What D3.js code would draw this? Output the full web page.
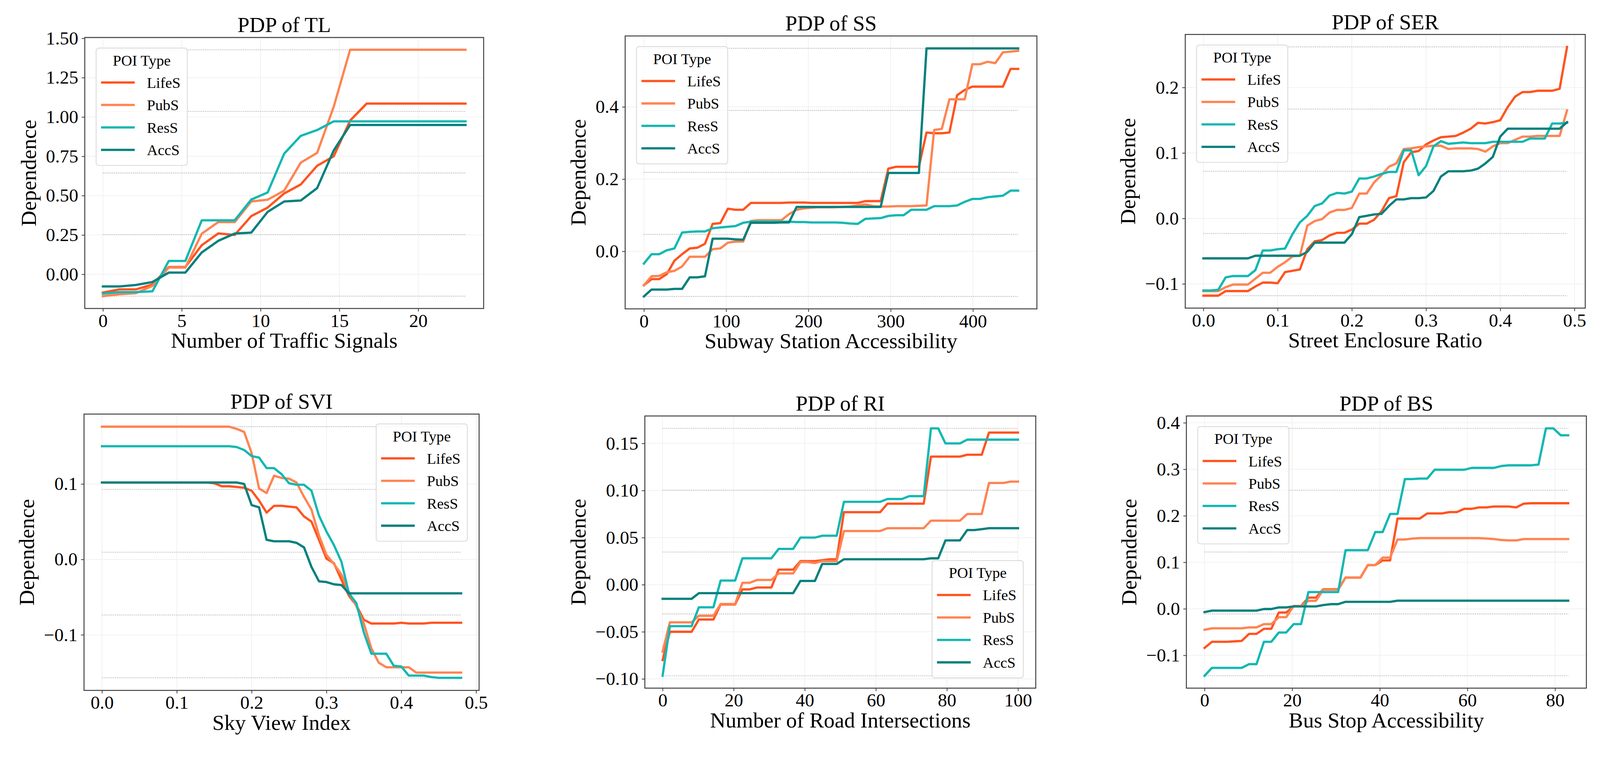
<!DOCTYPE html>
<html>
<head>
<meta charset="utf-8">
<script src="https://cdn.jsdelivr.net/npm/d3@7"></script>
<style>
  html, body { margin: 0; padding: 0; background: #fff; overflow: hidden; }
  #chart { display: block; width: 100vw; height: auto; }
  svg text { font-family: "Liberation Serif", "Times New Roman", serif; fill: #000; }
</style>
</head>
<body>
<svg id="chart" viewBox="0 0 4228 1981" preserveAspectRatio="xMidYMid meet"></svg>
<script>
// series names / colours, shared by every panel
const poiTypes = ["LifeS", "PubS", "ResS", "AccS"];
const poiColors = ["#ff5420", "#ff8452", "#12b8b3", "#05807d"];

// ---- PDP of TL ----
const tlX = [0, 1.05, 2.09, 3.14, 4.18, 5.23, 6.27, 7.32, 8.36, 9.41, 10.45, 11.5, 12.55, 13.59, 14.64, 15.68, 16.73, 17.77, 18.82, 19.86, 20.91, 21.95, 23];
const tlLifeS = [-0.116, -0.096, -0.096, -0.065, 0.046, 0.046, 0.185, 0.26, 0.25, 0.37, 0.424, 0.514, 0.571, 0.69, 0.75, 0.977, 1.085, 1.085, 1.085, 1.085, 1.085, 1.085, 1.085];
const tlPubS = [-0.139, -0.127, -0.12, -0.074, 0.043, 0.043, 0.258, 0.332, 0.332, 0.463, 0.474, 0.532, 0.71, 0.772, 1.065, 1.427, 1.427, 1.427, 1.427, 1.427, 1.427, 1.427, 1.427];
const tlResS = [-0.123, -0.113, -0.113, -0.108, 0.085, 0.085, 0.343, 0.343, 0.343, 0.475, 0.52, 0.767, 0.88, 0.917, 0.972, 0.972, 0.972, 0.972, 0.972, 0.972, 0.972, 0.972, 0.972];
const tlAccS = [-0.077, -0.077, -0.068, -0.049, 0.011, 0.011, 0.139, 0.213, 0.259, 0.265, 0.397, 0.463, 0.469, 0.548, 0.787, 0.949, 0.949, 0.949, 0.949, 0.949, 0.949, 0.949, 0.949];
const tlXTicks = [0, 5, 10, 15, 20];
const tlYTicks = [0, 0.25, 0.5, 0.75, 1.0, 1.25, 1.5];

// ---- PDP of SS ----
const ssX = [0, 9.29, 18.57, 27.86, 37.14, 46.43, 55.71, 65, 74.29, 83.57, 92.86, 102.14, 111.43, 120.71, 130, 139.29, 148.57, 157.86, 167.14, 176.43, 185.71, 195, 204.29, 213.57, 222.86, 232.14, 241.43, 250.71, 260, 269.29, 278.57, 287.86, 297.14, 306.43, 315.71, 325, 334.29, 343.57, 352.86, 362.14, 371.43, 380.71, 390, 399.29, 408.57, 417.86, 427.14, 436.43, 445.71, 455];
const ssLifeS = [-0.094, -0.077, -0.077, -0.063, -0.026, -0.008, 0.008, 0.010, 0.021, 0.076, 0.078, 0.118, 0.115, 0.115, 0.134, 0.134, 0.134, 0.134, 0.134, 0.135, 0.135, 0.135,
  0.134, 0.134, 0.134, 0.134, 0.134, 0.134, 0.134, 0.139, 0.139, 0.139,
  0.229, 0.234, 0.234, 0.234, 0.234, 0.329, 0.327, 0.327, 0.329,
  0.432, 0.447, 0.456, 0.456, 0.456, 0.456, 0.456, 0.505, 0.505];
const ssPubS = [-0.094, -0.069, -0.068, -0.058, -0.054, -0.042, -0.015, -0.015, -0.015, 0.006, 0.008, 0.024, 0.027, 0.027, 0.084, 0.086, 0.086, 0.086, 0.086, 0.103, 0.115, 0.119,
  0.121, 0.122, 0.122, 0.122, 0.123, 0.124, 0.127, 0.130, 0.125,
  0.124, 0.124, 0.125, 0.125, 0.125, 0.126, 0.127,
  0.336, 0.339, 0.421, 0.421, 0.421, 0.518, 0.518, 0.525, 0.521, 0.551, 0.553, 0.555];
const ssResS = [-0.034, -0.008, -0.008, 0.003, 0.008, 0.052, 0.054, 0.055, 0.055, 0.064, 0.066, 0.068, 0.070, 0.079, 0.082, 0.082, 0.082, 0.082, 0.082, 0.082, 0.081, 0.081,
  0.080, 0.080, 0.080, 0.080, 0.079, 0.077, 0.076,
  0.090, 0.091, 0.092, 0.098, 0.100, 0.100, 0.115, 0.115, 0.115, 0.125, 0.125, 0.125, 0.127, 0.137, 0.145, 0.145, 0.150, 0.152, 0.154, 0.168, 0.168];
const ssAccS = [-0.125, -0.106, -0.106, -0.106, -0.104, -0.104, -0.072, -0.072, -0.069, 0.035, 0.035, 0.035, 0.033, 0.032, 0.079, 0.079, 0.079, 0.079, 0.080, 0.080, 0.123, 0.123,
  0.123, 0.123, 0.123, 0.123, 0.123, 0.123, 0.123, 0.123, 0.123, 0.123,
  0.217, 0.217, 0.217, 0.217, 0.217,
  0.562, 0.562, 0.562, 0.562, 0.562, 0.562, 0.562, 0.562, 0.562, 0.562, 0.562, 0.562, 0.562];
const ssXTicks = [0, 100, 200, 300, 400];
const ssYTicks = [0, 0.2, 0.4];

// ---- PDP of SER ----
const serX = [0, 0.01, 0.02, 0.03, 0.04, 0.05, 0.06, 0.07, 0.08, 0.09, 0.10, 0.11, 0.12, 0.13, 0.14, 0.15, 0.16, 0.17, 0.18, 0.19, 0.20, 0.21, 0.22, 0.23, 0.24, 0.25, 0.26, 0.27, 0.28, 0.29, 0.30, 0.31, 0.32, 0.33, 0.34, 0.35, 0.36, 0.37, 0.38, 0.39, 0.40, 0.41, 0.42, 0.43, 0.44, 0.45, 0.46, 0.47, 0.48, 0.49];
const serLifeS = [-0.118, -0.118, -0.118, -0.111, -0.111, -0.111, -0.111, -0.104, -0.098, -0.098, -0.099, -0.082, -0.080, -0.078,
  -0.047, -0.035, -0.033, -0.026, -0.022, -0.022, -0.017, -0.008, -0.008, -0.002,
  0.011, 0.031, 0.034, 0.086, 0.101, 0.103, 0.113, 0.119, 0.124, 0.125, 0.126, 0.131, 0.137, 0.146, 0.145, 0.147, 0.150, 0.170, 0.186, 0.193, 0.193, 0.195, 0.195, 0.195, 0.198, 0.262];
const serPubS = [-0.111, -0.111, -0.111, -0.105, -0.101, -0.101, -0.101, -0.092, -0.083, -0.083, -0.074, -0.067, -0.058, -0.057,
  -0.011, -0.004, -0.001, 0.009, 0.013, 0.013, 0.016, 0.038, 0.038, 0.055,
  0.066, 0.079, 0.084, 0.106, 0.107, 0.109, 0.110, 0.111, 0.111, 0.106, 0.107, 0.107, 0.107, 0.106, 0.102, 0.110, 0.115, 0.115, 0.120, 0.125, 0.125, 0.126, 0.126, 0.126, 0.126, 0.165];
const serResS = [-0.110, -0.110, -0.109, -0.090, -0.088, -0.088, -0.088, -0.079, -0.049, -0.049, -0.047, -0.046, -0.024, -0.006,
  0.004, 0.019, 0.023, 0.035, 0.039, 0.038, 0.041, 0.061, 0.061, 0.064,
  0.068, 0.071, 0.071, 0.104, 0.104, 0.066, 0.080, 0.110, 0.118, 0.114, 0.115, 0.116, 0.115, 0.115, 0.115, 0.117, 0.117, 0.117, 0.117, 0.117, 0.122, 0.122, 0.122, 0.145, 0.145, 0.146];
const serAccS = [-0.061, -0.061, -0.061, -0.061, -0.061, -0.061, -0.061, -0.057, -0.057, -0.057, -0.057, -0.057, -0.057, -0.057,
  -0.051, -0.037, -0.037, -0.037, -0.037, -0.037, -0.024, 0.002, 0.004, 0.006,
  0.007, 0.019, 0.029, 0.029, 0.031, 0.031, 0.032, 0.042, 0.064, 0.072, 0.072, 0.072, 0.073, 0.076, 0.084, 0.094, 0.125, 0.137, 0.137, 0.137, 0.137, 0.137, 0.137, 0.137, 0.137, 0.147];
const serXTicks = [0, 0.1, 0.2, 0.3, 0.4, 0.5];
const serYTicks = [-0.1, 0, 0.1, 0.2];

// ---- PDP of SVI ----
const sviX = [0, 0.01, 0.02, 0.03, 0.04, 0.05, 0.06, 0.07, 0.08, 0.09, 0.10, 0.11, 0.12, 0.13, 0.14, 0.15, 0.16, 0.17, 0.18, 0.19, 0.20, 0.21, 0.22, 0.23, 0.24, 0.25, 0.26, 0.27, 0.28, 0.29, 0.30, 0.31, 0.32, 0.33, 0.34, 0.35, 0.36, 0.37, 0.38, 0.39, 0.40, 0.41, 0.42, 0.43, 0.44, 0.45, 0.46, 0.47, 0.48];
const sviLifeS = [0.102, 0.102, 0.102, 0.102, 0.102, 0.102, 0.102, 0.102, 0.102, 0.102, 0.102, 0.102, 0.102, 0.102, 0.102, 0.101,
  0.097, 0.097, 0.096, 0.095, 0.091, 0.078, 0.062, 0.071, 0.071, 0.070, 0.069, 0.057, 0.050, 0.026, 0.001, -0.005, -0.027, -0.048, -0.061, -0.080, -0.085,
  -0.085, -0.085, -0.085, -0.084, -0.085, -0.085, -0.085, -0.084, -0.084, -0.084, -0.084, -0.084];
const sviPubS = [0.176, 0.176, 0.176, 0.176, 0.176, 0.176, 0.176, 0.176, 0.176, 0.176, 0.176, 0.176, 0.176, 0.176, 0.176, 0.176, 0.176, 0.176,
  0.173, 0.169, 0.141, 0.094, 0.088, 0.111, 0.108, 0.107, 0.102, 0.083, 0.066, 0.032, 0.006, -0.006, -0.020, -0.043, -0.062, -0.085, -0.118,
  -0.137, -0.143, -0.143, -0.143, -0.143, -0.150, -0.150, -0.150, -0.150, -0.150, -0.150, -0.150];
const sviResS = [0.150, 0.150, 0.150, 0.150, 0.150, 0.150, 0.150, 0.150, 0.150, 0.150, 0.150, 0.150, 0.150, 0.150, 0.150, 0.150, 0.150, 0.150,
  0.149, 0.145, 0.137, 0.135, 0.121, 0.121, 0.113, 0.101, 0.099, 0.099, 0.091, 0.058, 0.037, 0.019, -0.003, -0.045, -0.058, -0.097, -0.125,
  -0.125, -0.125, -0.141, -0.142, -0.154, -0.154, -0.154, -0.156, -0.157, -0.157, -0.157, -0.157];
const sviAccS = [0.102, 0.102, 0.102, 0.102, 0.102, 0.102, 0.102, 0.102, 0.102, 0.102, 0.102, 0.102, 0.102, 0.102, 0.102, 0.102, 0.102, 0.102, 0.102,
  0.100, 0.072, 0.069, 0.026, 0.024, 0.024, 0.024, 0.022, 0.016, -0.010, -0.029, -0.030, -0.033, -0.034, -0.045,
  -0.045, -0.045, -0.045, -0.045, -0.045, -0.045, -0.045, -0.045, -0.045, -0.045, -0.045, -0.045, -0.045, -0.045, -0.045];
const sviXTicks = [0, 0.1, 0.2, 0.3, 0.4, 0.5];
const sviYTicks = [-0.1, 0, 0.1];

// ---- PDP of RI ----
const riX = [0, 2.04, 4.08, 6.12, 8.16, 10.2, 12.24, 14.29, 16.33, 18.37, 20.41, 22.45, 24.49, 26.53, 28.57, 30.61, 32.65, 34.69, 36.73, 38.78, 40.82, 42.86, 44.9, 46.94, 48.98, 51.02, 53.06, 55.1, 57.14, 59.18, 61.22, 63.27, 65.31, 67.35, 69.39, 71.43, 73.47, 75.51, 77.55, 79.59, 81.63, 83.67, 85.71, 87.76, 89.8, 91.84, 93.88, 95.92, 97.96, 100];
const riLifeS = [-0.080, -0.050, -0.050, -0.050, -0.050, -0.037, -0.037, -0.037, -0.021, -0.021, -0.021,
  -0.005, -0.005, -0.003, -0.003, -0.003, 0.016, 0.016, 0.016, 0.025, 0.025, 0.025, 0.026, 0.027, 0.027,
  0.077, 0.077, 0.077, 0.077, 0.077, 0.077, 0.086, 0.086, 0.086, 0.086, 0.086, 0.086,
  0.136, 0.136, 0.136, 0.136, 0.136, 0.138, 0.138, 0.138, 0.1615, 0.1615, 0.1615, 0.1615, 0.1615];
const riPubS = [-0.071, -0.040, -0.040, -0.040, -0.040, -0.033, -0.033, -0.033, -0.0205, -0.0205, -0.0205,
  0.002, 0.002, 0.005, 0.005, 0.005, 0.012, 0.012, 0.012, 0.024, 0.024, 0.023, 0.025, 0.025, 0.025,
  0.057, 0.057, 0.057, 0.057, 0.057, 0.057, 0.060, 0.060, 0.060, 0.060, 0.060, 0.060,
  0.068, 0.068, 0.068, 0.068, 0.068, 0.075, 0.075, 0.075, 0.108, 0.108, 0.108, 0.1095, 0.1095];
const riResS = [-0.0967, -0.044, -0.044, -0.044, -0.044, -0.024, -0.024, -0.024, 0.0044, 0.0044, 0.0044,
  0.028, 0.028, 0.028, 0.028, 0.028, 0.038, 0.038, 0.038, 0.050, 0.050, 0.050, 0.052, 0.052, 0.052,
  0.088, 0.088, 0.088, 0.088, 0.088, 0.088, 0.091, 0.091, 0.091, 0.094, 0.094, 0.094,
  0.166, 0.166, 0.150, 0.150, 0.150, 0.154, 0.154, 0.154, 0.154, 0.154, 0.154, 0.154, 0.154];
const riAccS = [-0.015, -0.015, -0.015, -0.015, -0.015, -0.009, -0.009, -0.009, -0.009, -0.009, -0.009,
  -0.009, -0.009, -0.009, -0.009, -0.009, -0.009, -0.009, -0.009, 0.004, 0.004, 0.004, 0.022, 0.022, 0.022,
  0.027, 0.027, 0.027, 0.027, 0.027, 0.027, 0.027, 0.027, 0.027, 0.027, 0.027, 0.027,
  0.028, 0.028, 0.047, 0.047, 0.047, 0.058, 0.058, 0.059, 0.060, 0.060, 0.060, 0.060, 0.060];
const riXTicks = [0, 20, 40, 60, 80, 100];
const riYTicks = [-0.1, -0.05, 0, 0.05, 0.1, 0.15];

// ---- PDP of BS ----
const bsX = [0, 1.69, 3.39, 5.08, 6.78, 8.47, 10.16, 11.86, 13.55, 15.24, 16.94, 18.63, 20.33, 22.02, 23.71, 25.41, 27.1, 28.8, 30.49, 32.18, 33.88, 35.57, 37.27, 38.96, 40.65, 42.35, 44.04, 45.73, 47.43, 49.12, 50.82, 52.51, 54.2, 55.9, 57.59, 59.29, 60.98, 62.67, 64.37, 66.06, 67.76, 69.45, 71.14, 72.84, 74.53, 76.22, 77.92, 79.61, 81.31, 83];
const bsLifeS = [-0.084, -0.071, -0.071, -0.071, -0.070, -0.069, -0.054, -0.054, -0.043, -0.043, -0.008, -0.008, 0.005, 0.006,
  0.024, 0.024, 0.042, 0.042, 0.042, 0.067, 0.067, 0.067, 0.094, 0.094, 0.104, 0.104, 0.194,
  0.194, 0.194, 0.194, 0.205, 0.205, 0.205, 0.208, 0.208, 0.215, 0.215, 0.218, 0.218, 0.220, 0.220, 0.220, 0.218, 0.226, 0.227, 0.227, 0.227, 0.227, 0.227, 0.227];
const bsPubS = [-0.045, -0.042, -0.042, -0.042, -0.042, -0.042, -0.040, -0.040, -0.033, -0.033, -0.018, -0.018, 0.006, 0.006,
  0.017, 0.017, 0.041, 0.041, 0.041, 0.067, 0.067, 0.067, 0.094, 0.094, 0.110, 0.110, 0.149,
  0.149, 0.151, 0.152, 0.152, 0.152, 0.152, 0.152, 0.152, 0.152, 0.152, 0.152, 0.151, 0.150, 0.148, 0.147, 0.147, 0.150, 0.150, 0.150, 0.150, 0.150, 0.150, 0.150];
const bsResS = [-0.144, -0.127, -0.127, -0.127, -0.127, -0.127, -0.119, -0.119, -0.071, -0.071, -0.051, -0.051, -0.033, -0.033,
  0.036, 0.036, 0.036, 0.036, 0.036, 0.126, 0.126, 0.126, 0.126, 0.165, 0.165, 0.204, 0.204,
  0.279, 0.279, 0.280, 0.280, 0.299, 0.299, 0.299, 0.299, 0.299, 0.303, 0.303, 0.303, 0.303, 0.307, 0.3085, 0.3085, 0.3085, 0.3085, 0.310, 0.388, 0.388, 0.373, 0.373];
const bsAccS = [-0.007, -0.004, -0.004, -0.004, -0.004, -0.004, -0.004, -0.004, -0.0005, -0.0005, 0.003, 0.003, 0.005, 0.005,
  0.005, 0.005, 0.008, 0.010, 0.010, 0.015, 0.015, 0.015, 0.015, 0.015, 0.015, 0.015, 0.0175,
  0.0175, 0.0175, 0.0175, 0.0175, 0.0175, 0.0175, 0.0175, 0.0175, 0.0175, 0.0175, 0.0175, 0.0175, 0.0175, 0.0175, 0.0175, 0.0175, 0.0175, 0.0175, 0.0175, 0.0175, 0.0175, 0.0175, 0.0175];
const bsXTicks = [0, 20, 40, 60, 80];
const bsYTicks = [-0.1, 0, 0.1, 0.2, 0.3, 0.4];

const panelTitles = ["PDP of TL", "PDP of SS", "PDP of SER", "PDP of SVI", "PDP of RI", "PDP of BS"];
const xLabels = ["Number of Traffic Signals", "Subway Station Accessibility", "Street Enclosure Ratio",
  "Sky View Index", "Number of Road Intersections", "Bus Stop Accessibility"];

const panels = [
  { x: tlX, series: [tlLifeS, tlPubS, tlResS, tlAccS], xTicks: tlXTicks, yTicks: tlYTicks, xFmt: "d", yFmt: ".2f", legend: "ul" },
  { x: ssX, series: [ssLifeS, ssPubS, ssResS, ssAccS], xTicks: ssXTicks, yTicks: ssYTicks, xFmt: "d", yFmt: ".1f", legend: "ul" },
  { x: serX, series: [serLifeS, serPubS, serResS, serAccS], xTicks: serXTicks, yTicks: serYTicks, xFmt: ".1f", yFmt: ".1f", legend: "ul" },
  { x: sviX, series: [sviLifeS, sviPubS, sviResS, sviAccS], xTicks: sviXTicks, yTicks: sviYTicks, xFmt: ".1f", yFmt: ".1f", legend: "ur" },
  { x: riX, series: [riLifeS, riPubS, riResS, riAccS], xTicks: riXTicks, yTicks: riYTicks, xFmt: "d", yFmt: ".2f", legend: "lr" },
  { x: bsX, series: [bsLifeS, bsPubS, bsResS, bsAccS], xTicks: bsXTicks, yTicks: bsYTicks, xFmt: "d", yFmt: ".1f", legend: "ul" }
];

// axes boxes in page pixels: left, top, right, bottom
const frames = [
  [224, 99, 1278, 815], [1652, 95, 2740, 816], [3132, 91, 4189, 814],
  [222, 1094, 1266, 1824], [1704, 1099, 2737, 1818], [3135, 1099, 4192, 1818]
];

const svg = d3.select("#chart");
svg.append("rect").attr("width", 4228).attr("height", 1981).attr("fill", "#fff");

// matplotlib-style 5% padding
function padded(ext) {
  const m = (ext[1] - ext[0]) * 0.05;
  return [ext[0] - m, ext[1] + m];
}

function drawPanel(p, i) {
  const [l, t, r, b] = frames[i];
  const g = svg.append("g");
  const xExt = d3.extent(p.x);
  const yExt = d3.extent(p.series.flat());
  const x = d3.scaleLinear().domain(padded(xExt)).range([l, r]);
  const y = d3.scaleLinear().domain(padded(yExt)).range([b, t]);

  // faint grid at the ticks
  g.append("g").selectAll("line").data(p.yTicks).join("line")
    .attr("x1", l).attr("x2", r).attr("y1", d => y(d)).attr("y2", d => y(d))
    .attr("stroke", "#f1f1f1").attr("stroke-width", 2);
  g.append("g").selectAll("line").data(p.xTicks).join("line")
    .attr("y1", t).attr("y2", b).attr("x1", d => x(d)).attr("x2", d => x(d))
    .attr("stroke", "#f1f1f1").attr("stroke-width", 2);

  // dotted reference lines, evenly spread from the lowest to the highest value
  const levels = d3.range(5).map(k => yExt[0] + k * (yExt[1] - yExt[0]) / 4);
  g.append("g").selectAll("line").data(levels).join("line")
    .attr("x1", x(xExt[0])).attr("x2", x(xExt[1]))
    .attr("y1", d => y(d)).attr("y2", d => y(d))
    .attr("stroke", "#bababa").attr("stroke-width", 2.4).attr("stroke-dasharray", "2.4,2.6");

  const line = d3.line().x((d, k) => x(p.x[k])).y(d => y(d));
  g.append("g").selectAll("path").data(p.series).join("path")
    .attr("d", line)
    .attr("fill", "none")
    .attr("stroke", (d, k) => poiColors[k])
    .attr("stroke-width", 6)
    .attr("stroke-linejoin", "round")
    .attr("stroke-linecap", "square");

  // axes
  const xAxis = g.append("g").attr("transform", `translate(0,${b})`)
    .call(d3.axisBottom(x).tickValues(p.xTicks).tickFormat(d3.format(p.xFmt)).tickSize(8).tickPadding(6));
  const yAxis = g.append("g").attr("transform", `translate(${l},0)`)
    .call(d3.axisLeft(y).tickValues(p.yTicks).tickFormat(d3.format(p.yFmt)).tickSize(8).tickPadding(9));
  [xAxis, yAxis].forEach(a => {
    a.select(".domain").remove();
    a.selectAll(".tick line").attr("stroke", "#3c3c3c").attr("stroke-width", 2);
    a.selectAll(".tick text").attr("font-size", 49).attr("font-family", "Liberation Serif, serif").attr("fill", "#000");
  });

  g.append("rect").attr("x", l).attr("y", t).attr("width", r - l).attr("height", b - t)
    .attr("fill", "none").attr("stroke", "#3c3c3c").attr("stroke-width", 2.5);

  // texts
  g.append("text").attr("x", (l + r) / 2).attr("y", t - 14)
    .attr("text-anchor", "middle").attr("font-size", 57).text(panelTitles[i]);
  g.append("text").attr("x", (l + r) / 2).attr("y", b + 104)
    .attr("text-anchor", "middle").attr("font-size", 57).text(xLabels[i]);
  const tickLeft = yAxis.node().getBBox().x + l;
  const lx = tickLeft - 26, ly = (t + b) / 2;
  g.append("text").attr("transform", `translate(${lx},${ly}) rotate(-90)`)
    .attr("text-anchor", "middle").attr("font-size", 57).text("Dependence");

  // legend
  const lw = 241, lh = 310;
  let lgx = l + 30, lgy = t + 28;
  if (p.legend === "ur") { lgx = r - 31 - lw; lgy = t + 26; }
  if (p.legend === "lr") { lgx = r - 33 - lw; lgy = b - 27 - lh; }
  const lg = g.append("g").attr("transform", `translate(${lgx},${lgy})`);
  lg.append("rect").attr("width", lw).attr("height", lh).attr("rx", 7)
    .attr("fill", "#fff").attr("fill-opacity", 0.8)
    .attr("stroke", "#d6d6d6").attr("stroke-width", 2);
  lg.append("text").attr("x", lw / 2).attr("y", 46).attr("text-anchor", "middle")
    .attr("font-size", 40).text("POI Type");
  const rows = lg.selectAll("g.row").data(poiTypes).join("g").attr("class", "row")
    .attr("transform", (d, k) => `translate(0,${91 + k * 59.3})`);
  rows.append("line").attr("x1", 13).attr("x2", 102)
    .attr("stroke", (d, k) => poiColors[k]).attr("stroke-width", 6);
  rows.append("text").attr("x", 134).attr("y", 14).attr("font-size", 40).text(d => d);
}

panels.forEach(drawPanel);
</script>
</body>
</html>
